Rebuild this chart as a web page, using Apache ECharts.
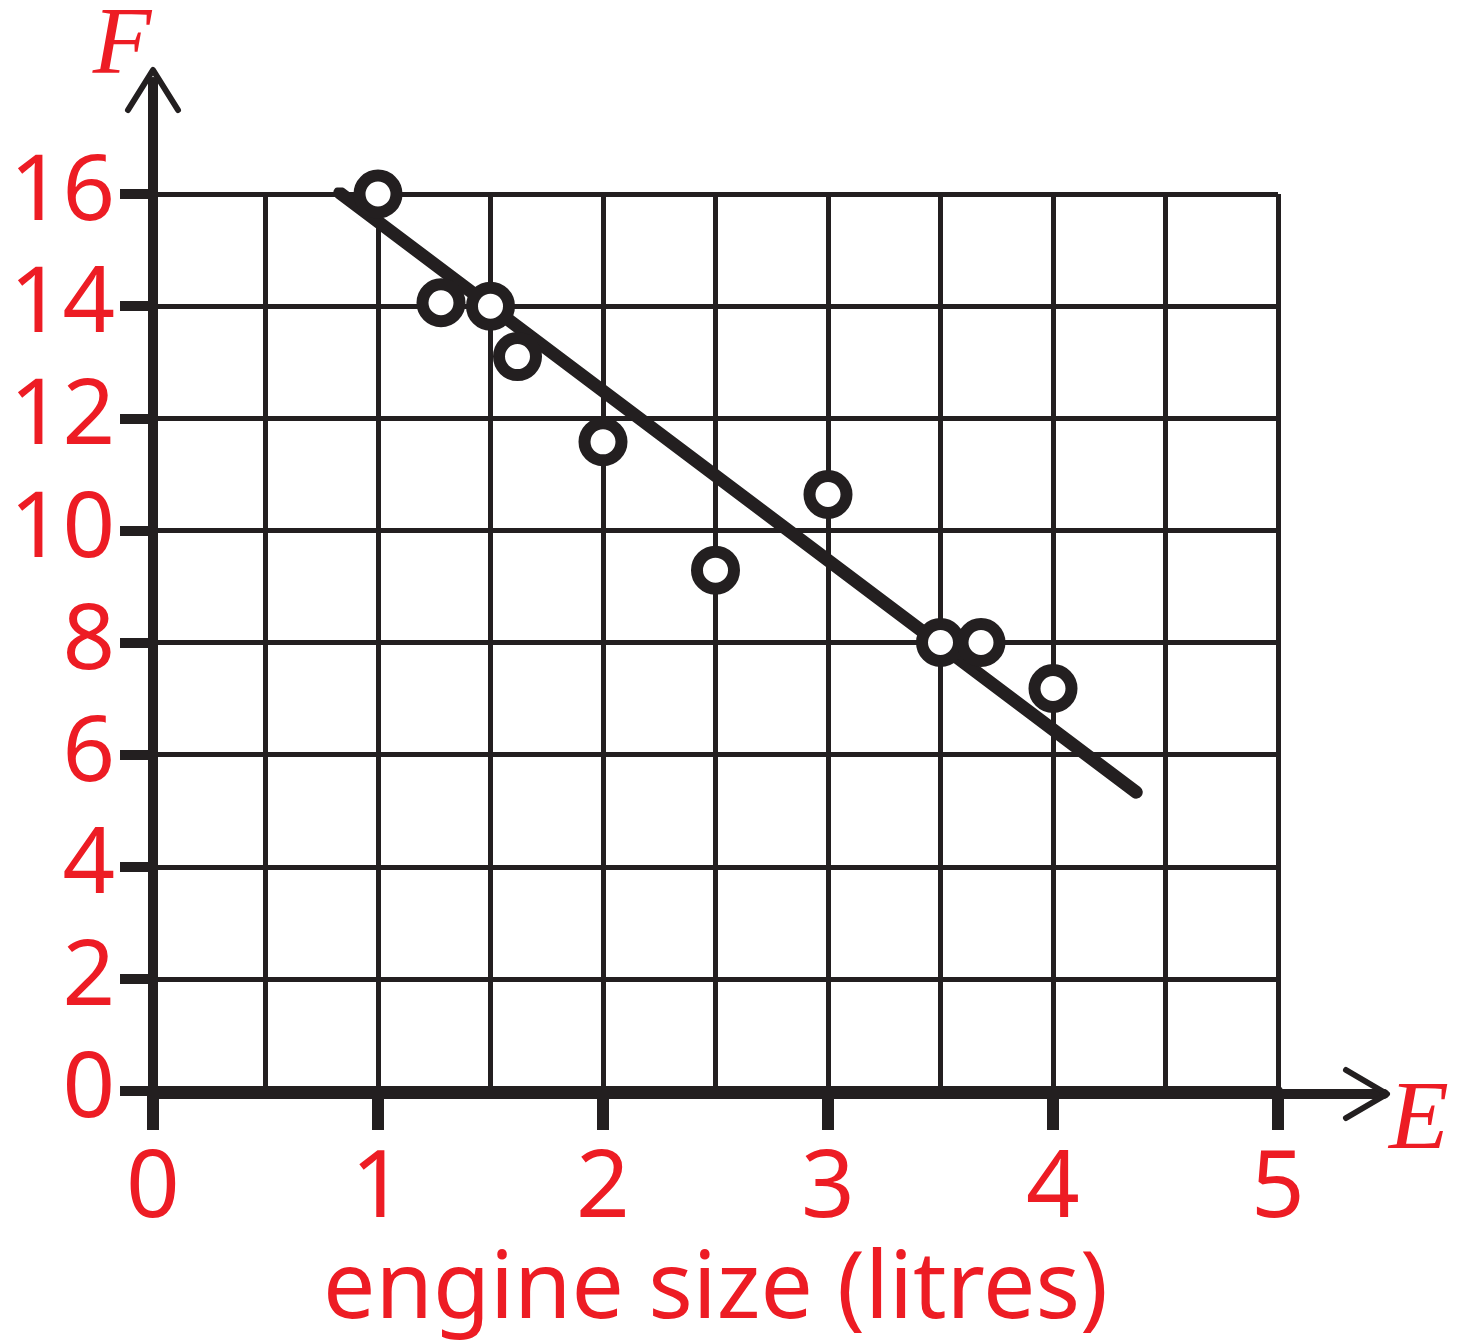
<!DOCTYPE html>
<html><head><meta charset="utf-8">
<script src="https://cdn.jsdelivr.net/npm/echarts@6/dist/echarts.min.js"></script>
<style>html,body{margin:0;padding:0;background:#fff}#c{width:1465px;height:1343px}</style>
</head><body><div id="c"></div>
<script>
// ---- data ----
const xTickValues = [0, 1, 2, 3, 4, 5];
const yTickValues = [0, 2, 4, 6, 8, 10, 12, 14, 16];
const engineSize = [1, 1.28, 1.5, 1.62, 2, 2.5, 3, 3.5, 3.68, 4];
const fuelUse   = [16, 14.06, 14, 13.1, 11.58, 9.29, 10.64, 8, 8, 7.18];
const fitX = [0.83, 4.37];
const fitY = [16.02, 5.33];
const xAxisTitle = 'engine size (litres)';
const xSymbol = 'E';
const ySymbol = 'F';

// ---- styling ----
const INK = '#231f20';
const RED = '#ed1c24';
const FONT = 'Noto Sans';

const points = engineSize.map((x, i) => [x, fuelUse[i]]);
const fitLine = fitX.map((x, i) => [x, fitY[i]]);

const chart = echarts.init(document.getElementById('c'), null, {renderer: 'canvas'});
chart.setOption({
  backgroundColor: '#fff',
  animation: false,
  grid: [
    {left: 153, top: 194, width: 1125, height: 900, containLabel: false},
    {left: 153, top: 74, width: 1231, height: 1020, containLabel: false}
  ],
  xAxis: [
    {
      type: 'value', gridIndex: 0,
      min: xTickValues[0], max: xTickValues[xTickValues.length - 1], interval: 1,
      axisLine: {show: true, lineStyle: {color: INK, width: 10}},
      axisTick: {show: true, inside: false, length: 39, lineStyle: {color: INK, width: 12}},
      minorTick: {show: false, splitNumber: 2},
      splitLine: {show: true, lineStyle: {color: INK, width: 5}},
      minorSplitLine: {show: true, lineStyle: {color: INK, width: 5}},
      axisLabel: {show: true, color: RED, fontFamily: FONT, fontSize: 94, margin: 52,
        formatter: v => (xTickValues.indexOf(v) >= 0 ? String(v) : '')},
      name: xAxisTitle, nameLocation: 'middle', nameGap: 154,
      nameTextStyle: {color: RED, fontFamily: FONT, fontSize: 93}
    },
    {
      type: 'value', gridIndex: 1, min: 0, max: 1,
      axisLine: {show: true, lineStyle: {color: INK, width: 10}},
      axisTick: {show: false}, axisLabel: {show: false}, splitLine: {show: false}
    }
  ],
  yAxis: [
    {
      type: 'value', gridIndex: 0,
      min: yTickValues[0], max: yTickValues[yTickValues.length - 1], interval: 2,
      axisLine: {show: true, lineStyle: {color: INK, width: 10}},
      axisTick: {show: true, inside: false, length: 33, lineStyle: {color: INK, width: 10}},
      splitLine: {show: true, lineStyle: {color: INK, width: 5}},
      axisLabel: {show: true, color: RED, fontFamily: FONT, fontSize: 92, margin: 38,
        formatter: v => (yTickValues.indexOf(v) >= 0 ? String(v) : '')}
    },
    {
      type: 'value', gridIndex: 1, min: 0, max: 1,
      axisLine: {show: true, lineStyle: {color: INK, width: 10}},
      axisTick: {show: false}, axisLabel: {show: false}, splitLine: {show: false},
      name: ySymbol, nameLocation: 'end', nameGap: -14,
      nameTextStyle: {color: RED, fontFamily: 'Liberation Serif', fontStyle: 'italic', fontSize: 96, padding: [0, 62, 0, 0]}
    }
  ],
  graphic: [
    {type: 'polyline', shape: {points: [[128, 110], [153, 70], [178, 110]]},
      style: {stroke: INK, lineWidth: 6, fill: null, lineCap: 'round', lineJoin: 'round'}, z: 10},
    {type: 'polyline', shape: {points: [[1346, 1070], [1387, 1094], [1346, 1118]]},
      style: {stroke: INK, lineWidth: 6, fill: null, lineCap: 'round', lineJoin: 'round'}, z: 10},
    {type: 'text', x: 1389, y: 1122, z: 10,
      style: {text: xSymbol, fill: RED, font: 'italic 98px "Liberation Serif"',
        textAlign: 'left', textVerticalAlign: 'middle', verticalAlign: 'middle'}}
  ],
  series: [
    {
      type: 'line', xAxisIndex: 0, yAxisIndex: 0, data: fitLine,
      showSymbol: false, symbol: 'none', silent: true,
      lineStyle: {color: INK, width: 13, cap: 'round'}, z: 3
    },
    {
      type: 'scatter', xAxisIndex: 0, yAxisIndex: 0, data: points,
      symbol: 'circle', symbolSize: 37, silent: true,
      itemStyle: {color: '#ffffff', borderColor: INK, borderWidth: 12, opacity: 1}, z: 4
    }
  ]
});
</script>
</body></html>
